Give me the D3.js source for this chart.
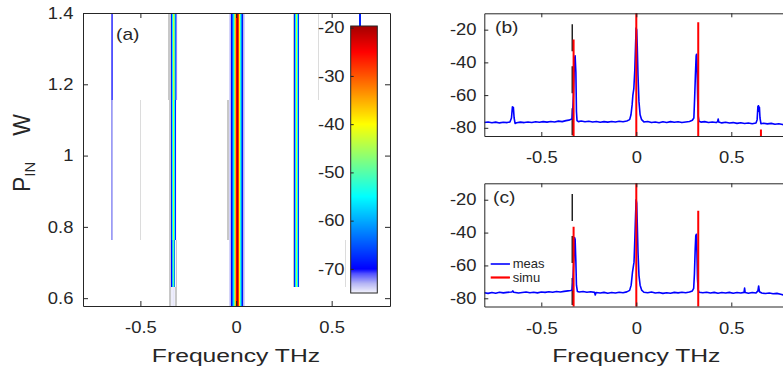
<!DOCTYPE html>
<html><head><meta charset="utf-8">
<script src="https://cdn.jsdelivr.net/npm/d3@7"></script>
<style>html,body{margin:0;padding:0;background:#fff;} svg{display:block;}</style>
</head><body><svg id="chart" width="783" height="371"></svg>
<script>
// ---------------- data ----------------
const freqTicks = [-0.5, 0, 0.5];
const powerTicks = [0.6, 0.8, 1, 1.2, 1.4];
const dbTicks = [-80, -60, -40, -20];
const cbarTicks = [-70, -60, -50, -40, -30, -20];

// panel (a): input power bands (W) and spectral stripes (dB) per band
const powerBandEdges = [0.578, 0.632, 0.764, 1.156, 1.4];
const freqBinWidth = 0.00523;
const centerProfile = [-74,-73,-70,-64,-57,-47,-36,-25,-21,-28,-40,-53,-62,-69,-73,-74];
const mapStripes = [
  {band:3, fStart:-0.6534, vals:[-71.5,-71]},
  {band:3, fStart:-0.3539, vals:[-80,-80,-80,-68,-56,-43,-50,-63,-72,-75]},
  {band:3, fStart:-0.0366, vals:centerProfile},
  {band:3, fStart:0.2995, vals:[-80,-68,-56,-43,-54,-67,-75]},
  {band:3, fStart:0.4286, vals:[-85]},
  {band:3, fStart:0.6404, vals:[-68,-68]},
  {band:2, fStart:-0.6534, vals:[-72.5,-73]},
  {band:2, fStart:-0.5029, vals:[-85]},
  {band:2, fStart:-0.3487, vals:[-80,-80,-68,-55,-44,-55,-68,-75]},
  {band:2, fStart:-0.0470, vals:[-80,-80].concat(centerProfile)},
  {band:2, fStart:0.2995, vals:[-80,-68,-56,-43,-54,-67,-75]},
  {band:1, fStart:-0.3487, vals:[-80,-80,-70,-58,-49,-62,-75,-80]},
  {band:1, fStart:-0.0366, vals:centerProfile},
  {band:1, fStart:0.2995, vals:[-80,-68,-56,-45,-55,-67,-75]},
  {band:1, fStart:0.5672, vals:[-85]},
  {band:0, fStart:-0.3502, vals:[-80,-80,-74.8,-74.8,-74.6,-74.8,-80,-80]},
  {band:0, fStart:-0.0366, vals:centerProfile}
];

// panel (b) measured spectrum [THz, dB]
const measB = [
[-0.80,-76.8],[-0.78,-76.4],[-0.76,-76.9],[-0.74,-76.5],[-0.72,-77.0],[-0.70,-76.6],[-0.68,-76.8],
[-0.665,-76.4],[-0.657,-74],[-0.652,-67.2],[-0.647,-67.5],[-0.643,-74],[-0.638,-77.3],[-0.63,-76.9],
[-0.61,-76.5],[-0.59,-76.8],[-0.57,-76.4],[-0.55,-76.7],[-0.53,-76.3],[-0.51,-76.6],[-0.49,-76.2],
[-0.47,-76.5],[-0.45,-76.1],[-0.43,-76.4],[-0.41,-75.9],[-0.39,-76.2],[-0.37,-75.6],[-0.355,-75.3],
[-0.343,-74.8],[-0.338,-74.5],[-0.334,-68],[-0.331,-60],[-0.328,-50],[-0.325,-38],[-0.322,-36],
[-0.318,-46],[-0.315,-70],[-0.312,-75.6],[-0.305,-76.2],[-0.29,-75.8],[-0.27,-76.3],[-0.25,-76.0],
[-0.23,-76.4],[-0.21,-76.1],[-0.19,-76.6],[-0.17,-76.2],[-0.15,-76.5],[-0.13,-76.1],[-0.11,-76.4],
[-0.09,-76.0],[-0.07,-76.3],[-0.05,-75.8],[-0.035,-75.0],[-0.028,-72],[-0.022,-66],[-0.018,-60],
[-0.013,-56],[-0.008,-45],[-0.004,-30],[-0.001,-19],[0.002,-20],[0.005,-30],[0.009,-48],[0.014,-64],
[0.02,-72],[0.028,-75],[0.04,-76.4],[0.06,-76.1],[0.08,-76.8],[0.10,-76.4],[0.12,-76.9],[0.14,-76.3],
[0.16,-76.7],[0.18,-76.2],[0.20,-76.6],[0.22,-76.3],[0.24,-76.8],[0.26,-76.4],[0.28,-76.1],
[0.295,-75.4],[0.303,-74],[0.307,-62],[0.311,-48],[0.315,-36],[0.317,-35],[0.320,-44],[0.323,-62],
[0.326,-73],[0.33,-76],[0.34,-76.5],[0.36,-76.2],[0.38,-76.7],[0.40,-76.4],[0.42,-76.8],[0.428,-76.2],
[0.431,-74.6],[0.434,-76.5],[0.45,-77.0],[0.47,-76.6],[0.49,-77.1],[0.51,-76.8],[0.53,-77.3],
[0.55,-76.9],[0.57,-77.4],[0.59,-77.1],[0.61,-77.5],[0.63,-77.0],[0.636,-75],[0.640,-67],[0.643,-66.5],
[0.646,-70],[0.648,-67.5],[0.651,-74],[0.656,-77.5],[0.67,-77.2],[0.69,-77.6],[0.71,-77.3],
[0.73,-77.8],[0.75,-77.5],[0.77,-78.0],[0.79,-78.4],[0.80,-78.6]
];
// panel (c) measured spectrum [THz, dB]
const measC = [
[-0.80,-76.6],[-0.78,-77.0],[-0.76,-76.5],[-0.74,-76.9],[-0.72,-76.3],[-0.70,-76.7],[-0.68,-76.4],
[-0.655,-76.2],[-0.65,-75.5],[-0.645,-76.3],[-0.62,-76.8],[-0.60,-76.5],[-0.58,-76.2],[-0.56,-76.6],
[-0.54,-76.3],[-0.52,-76.7],[-0.50,-76.2],[-0.48,-76.4],[-0.46,-76.0],[-0.44,-76.3],[-0.42,-75.9],
[-0.40,-76.2],[-0.38,-75.8],[-0.36,-75.5],[-0.345,-75.3],[-0.338,-75],[-0.334,-70],[-0.331,-62],
[-0.328,-55],[-0.325,-43],[-0.322,-44],[-0.318,-58],[-0.315,-72],[-0.31,-75.8],[-0.30,-76.2],
[-0.28,-75.9],[-0.26,-76.3],[-0.24,-76.0],[-0.22,-76.4],[-0.216,-78],[-0.212,-76.5],[-0.19,-76.8],
[-0.17,-76.4],[-0.15,-76.9],[-0.13,-76.5],[-0.11,-76.8],[-0.09,-76.3],[-0.07,-76.6],[-0.05,-76.1],
[-0.035,-75.2],[-0.027,-72],[-0.02,-64],[-0.016,-61],[-0.012,-58],[-0.008,-45],[-0.004,-30],
[-0.001,-20],[0.002,-22],[0.005,-34],[0.009,-52],[0.014,-66],[0.02,-72],[0.028,-75],[0.04,-76.3],
[0.06,-76.6],[0.08,-76.2],[0.10,-76.8],[0.12,-76.5],[0.14,-77.0],[0.16,-76.6],[0.18,-76.9],
[0.20,-76.4],[0.22,-76.7],[0.24,-76.3],[0.26,-76.6],[0.28,-76.2],[0.295,-75.5],[0.302,-74],
[0.306,-65],[0.31,-50],[0.313,-42],[0.316,-41],[0.319,-52],[0.322,-68],[0.326,-75],[0.33,-76.3],
[0.35,-76.6],[0.37,-76.3],[0.39,-76.8],[0.41,-76.4],[0.43,-76.9],[0.45,-76.5],[0.47,-76.8],
[0.49,-76.4],[0.51,-76.9],[0.53,-76.5],[0.55,-76.8],[0.567,-76.4],[0.57,-73.8],[0.573,-76.5],
[0.59,-76.9],[0.61,-76.5],[0.63,-76.8],[0.64,-75.5],[0.644,-72.5],[0.648,-76],[0.66,-76.8],
[0.68,-77.1],[0.70,-76.8],[0.72,-77.2],[0.74,-77.0],[0.76,-77.6],[0.78,-78.2],[0.80,-78.5]
];
// simulated lines (stems) and dashed reference line
const simuFreqB = [-0.33, 0, 0.326, 0.656];
const simuLevelB = [-26, -5, -15.5, -81];
const simuFreqC = [-0.33, 0, 0.326];
const simuLevelC = [-36.5, -5, -26.7];
const refFreq = [-0.337];
const refLevelB = [-16.7];
const refLevelC = [-16.5];
const legendLabels = ["meas", "simu"];

// ---------------- drawing ----------------
const svg = d3.select("#chart");
svg.append("rect").attr("width",783).attr("height",371).attr("fill","#fff");
const AX = "#262626";
const FONT = "'Liberation Sans', Arial, sans-serif";
const TICK_SX = 1.15;

function stretchText(sel, sx) {
  sel.each(function(){
    const t = d3.select(this);
    const x = +t.attr("x") || 0;
    t.attr("x", x / sx).attr("transform", `scale(${sx},1)`);
  });
}
function styleAxis(g, fs) {
  g.select(".domain").attr("stroke", AX).attr("stroke-width", 1);
  g.selectAll(".tick line").attr("stroke", AX).attr("stroke-width", 1);
  g.selectAll("text").attr("fill", AX).attr("font-size", fs).attr("font-family", FONT);
}
const fmt = d => (d === 0 ? "0" : String(d));

// jet-like colour map with faded low end
const lowFade = d3.scaleLinear([-75,-73,-71,-70],["#f4f4fc","#b4b4f4","#5050ff","#0000ff"]).clamp(true);
function mapColor(v) {
  if (v <= -82) return "#dcdcdc";
  if (v < -75) return "#c8c8c8";
  if (v < -70) return lowFade(v);
  const t = (v + 77.5) / 60;
  const c = x => Math.max(0, Math.min(1, x));
  const r = c(Math.min(4*t-1.5, -4*t+4.5));
  const g = c(Math.min(4*t-0.5, -4*t+3.5));
  const b = c(Math.min(4*t+0.5, -4*t+2.5));
  return d3.rgb(r*255, g*255, b*255).toString();
}

// ===== Panel (a) =====
const aL=83, aR=390, aT=13, aB=306;
const xA = d3.scaleLinear([-0.8, 0.805], [aL, aR]);
const yA = d3.scaleLinear([0.578, 1.4], [aB, aT]);
svg.append("clipPath").attr("id","clipA").append("rect")
  .attr("x",aL).attr("y",aT).attr("width",aR-aL).attr("height",aB-aT);
const cells = [];
mapStripes.forEach(s => s.vals.forEach((v,i) => cells.push({band:s.band, f0:s.fStart + i*freqBinWidth, v})));
svg.append("g").attr("clip-path","url(#clipA)").attr("shape-rendering","crispEdges")
  .selectAll("rect").data(cells).join("rect")
  .attr("x", d => xA(d.f0))
  .attr("width", d => xA(d.f0 + freqBinWidth) - xA(d.f0))
  .attr("y", d => yA(powerBandEdges[d.band+1]))
  .attr("height", d => yA(powerBandEdges[d.band]) - yA(powerBandEdges[d.band+1]))
  .attr("fill", d => mapColor(d.v));

// colorbar
const cbL=350.7, cbR=377.3, cbT=26, cbB=293;
const yCb = d3.scaleLinear([-75, -19.65], [cbB, cbT]);
const cbG = svg.append("g");
cbG.selectAll("rect").data(d3.range(cbT, cbB, 1)).join("rect")
  .attr("x", cbL).attr("width", cbR-cbL).attr("y", d => d).attr("height", 1.2)
  .attr("fill", d => mapColor(yCb.invert(d + 0.5)));
cbG.append("rect").attr("x",cbL).attr("y",cbT).attr("width",cbR-cbL).attr("height",cbB-cbT)
  .attr("fill","none").attr("stroke",AX).attr("stroke-width",1);
const cbAxis = cbG.append("g").attr("transform",`translate(${cbL},0)`)
  .call(d3.axisLeft(yCb).tickValues(cbarTicks).tickFormat(fmt).tickSizeInner(-3).tickSizeOuter(0).tickPadding(7/TICK_SX));
styleAxis(cbAxis, 16);
cbAxis.select(".domain").remove();
stretchText(cbAxis.selectAll("text"), TICK_SX);

// axes of (a)
const gAx = svg.append("g").attr("transform",`translate(${aL},0)`)
  .call(d3.axisLeft(yA).tickValues(powerTicks).tickFormat(fmt).tickSizeInner(-5).tickSizeOuter(0).tickPadding(11/TICK_SX));
styleAxis(gAx, 16); stretchText(gAx.selectAll("text"), TICK_SX);
const gAr = svg.append("g").attr("transform",`translate(${aR},0)`)
  .call(d3.axisRight(yA).tickValues(powerTicks).tickFormat("").tickSizeInner(-5).tickSizeOuter(0));
styleAxis(gAr, 16);
const gAb = svg.append("g").attr("transform",`translate(0,${aB})`)
  .call(d3.axisBottom(xA).tickValues(freqTicks).tickFormat(fmt).tickSizeInner(-5).tickSizeOuter(0).tickPadding(16));
styleAxis(gAb, 16); stretchText(gAb.selectAll("text"), TICK_SX);
const gAt = svg.append("g").attr("transform",`translate(0,${aT})`)
  .call(d3.axisTop(xA).tickValues(freqTicks).tickFormat("").tickSizeInner(-5).tickSizeOuter(0));
styleAxis(gAt, 16);

svg.append("text").attr("x",116).attr("y",40).attr("font-size",16).attr("font-family",FONT)
  .attr("fill",AX).attr("transform","translate(116,0) scale(1.2,1) translate(-116,0)").text("(a)");

// y label
const yl = svg.append("text").attr("transform","translate(30,192) rotate(-90)")
  .attr("font-family",FONT).attr("fill",AX).attr("font-size",23);
yl.append("tspan").text("P");
yl.append("tspan").attr("font-size",15).attr("dy",5).text("IN");
yl.append("tspan").attr("dy",-5).attr("dx",26).text("W");

// x label a
svg.append("text").attr("x",236).attr("y",362).attr("text-anchor","middle")
  .attr("font-size",19).attr("font-family",FONT).attr("fill",AX)
  .attr("transform","translate(236,0) scale(1.3,1) translate(-236,0)").text("Frequency THz");

// ===== Panels (b), (c) =====
const sL=484.3, sR=788.3;
const xS = d3.scaleLinear([-0.8, 0.8], [sL, sR]);
function spectrumPanel(id, top, bottom, meas, sF, sV, rF, rV, label, showLegend) {
  const yS = d3.scaleLinear([-85, -10], [bottom, top]);
  svg.append("clipPath").attr("id",id).append("rect")
    .attr("x",sL).attr("y",top).attr("width",sR-sL).attr("height",bottom-top);
  const g = svg.append("g").attr("clip-path",`url(#${id})`);
  // dashed reference
  g.selectAll("line.ref").data(rF.map((f,i)=>({f, v:rV[i]}))).join("line").attr("class","ref")
    .attr("x1",d=>xS(d.f)).attr("x2",d=>xS(d.f)).attr("y1",d=>yS(d.v)).attr("y2",bottom)
    .attr("stroke","#222").attr("stroke-width",1.5).attr("stroke-dasharray","27,15");
  // measured
  g.append("path").datum(meas)
    .attr("d", d3.line().x(d=>xS(d[0])).y(d=>yS(d[1])))
    .attr("fill","none").attr("stroke","#0000ff").attr("stroke-width",1.6).attr("stroke-linejoin","round");
  // simulated stems
  g.selectAll("line.simu").data(sF.map((f,i)=>({f, v:sV[i]}))).join("line").attr("class","simu")
    .attr("x1",d=>xS(d.f)).attr("x2",d=>xS(d.f)).attr("y1",d=>yS(d.v)).attr("y2",bottom+2)
    .attr("stroke","#ff0000").attr("stroke-width",2);
  // axes
  const gl = svg.append("g").attr("transform",`translate(${sL},0)`)
    .call(d3.axisLeft(yS).tickValues(dbTicks).tickFormat(fmt).tickSizeInner(-4).tickSizeOuter(0).tickPadding(9/TICK_SX));
  styleAxis(gl, 16); stretchText(gl.selectAll("text"), TICK_SX);
  const gr = svg.append("g").attr("transform",`translate(${sR},0)`)
    .call(d3.axisRight(yS).tickValues(dbTicks).tickFormat("").tickSizeInner(-4).tickSizeOuter(0));
  styleAxis(gr, 16);
  const gb = svg.append("g").attr("transform",`translate(0,${bottom})`)
    .call(d3.axisBottom(xS).tickValues(freqTicks).tickFormat(fmt).tickSizeInner(-4).tickSizeOuter(0).tickPadding(16));
  styleAxis(gb, 16); stretchText(gb.selectAll("text"), TICK_SX);
  const gt = svg.append("g").attr("transform",`translate(0,${top})`)
    .call(d3.axisTop(xS).tickValues(freqTicks).tickFormat("").tickSizeInner(-4).tickSizeOuter(0));
  styleAxis(gt, 16);
  const lx = label === "(b)" ? 495 : 493;
  const ly = label === "(b)" ? 33 : 203;
  svg.append("text").attr("x",lx).attr("y",ly).attr("font-size",16).attr("font-family",FONT)
    .attr("fill",AX).attr("transform",`translate(${lx},0) scale(1.2,1) translate(${-lx},0)`).text(label);
  if (showLegend) {
    const colors = ["#0000ff", "#ff0000"];
    legendLabels.forEach((t,i) => {
      const yy = 264 + i*13.5;
      svg.append("line").attr("x1",490.7).attr("x2",510).attr("y1",yy).attr("y2",yy)
        .attr("stroke",colors[i]).attr("stroke-width", i===0 ? 1.6 : 2.2);
      svg.append("text").attr("x",512.7).attr("y",yy+4.3).attr("font-size",13)
        .attr("font-family",FONT).attr("fill",AX).text(t);
    });
  }
}
spectrumPanel("clipB", 13.3, 136, measB, simuFreqB, simuLevelB, refFreq, refLevelB, "(b)", false);
spectrumPanel("clipC", 183.3, 306.5, measC, simuFreqC, simuLevelC, refFreq, refLevelC, "(c)", true);

svg.append("text").attr("x",636.3).attr("y",362).attr("text-anchor","middle")
  .attr("font-size",19).attr("font-family",FONT).attr("fill",AX)
  .attr("transform","translate(636.3,0) scale(1.3,1) translate(-636.3,0)").text("Frequency THz");
</script></body></html>
